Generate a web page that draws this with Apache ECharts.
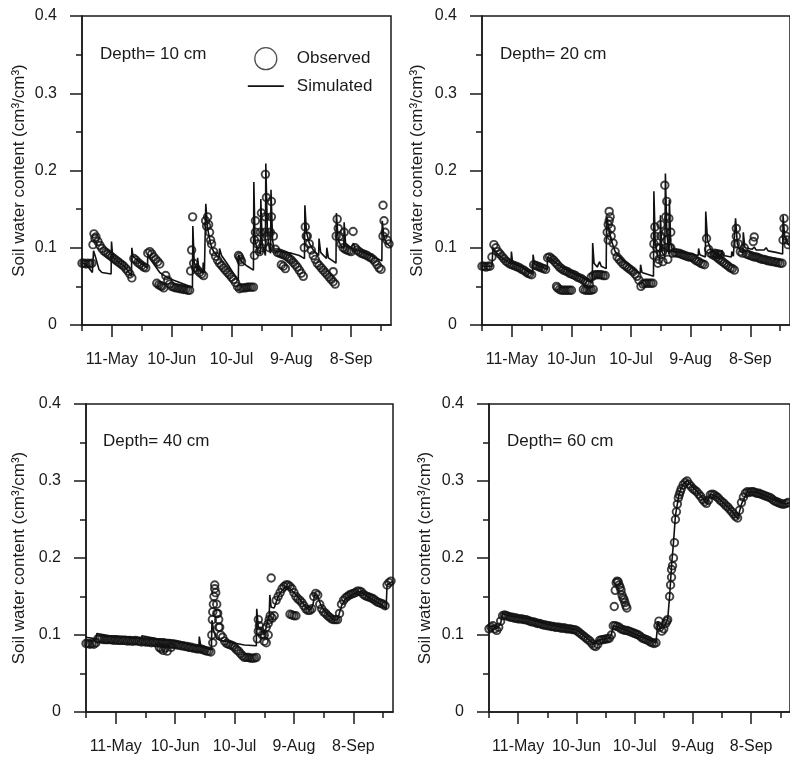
<!DOCTYPE html>
<html>
<head>
<meta charset="utf-8">
<script src="https://cdn.jsdelivr.net/npm/echarts@6/dist/echarts.min.js"></script>
<style>
  html, body { margin: 0; padding: 0; background: #fff; }
  #chart { width: 790px; height: 758px; }
</style>
</head>
<body>
<div id="chart"></div>
<script>
// Day 0 = 26-Apr; one value per day for the observed series.
const dayCount = 155;
const majorDays = [15, 45, 75, 105, 135];
const minorDays = [0, 30, 60, 90, 120, 150];
const dateLabels = ['11-May', '10-Jun', '10-Jul', '9-Aug', '8-Sep'];
const depths = ['Depth= 10 cm', 'Depth= 20 cm', 'Depth= 40 cm', 'Depth= 60 cm'];

// ---- 10 cm ----
const obs10 = [
  0.080,0.080,0.079,0.080,0.079,0.080,0.118,0.114,0.108,0.103,
  0.099,0.096,0.094,0.092,0.090,0.088,0.086,0.084,0.082,0.080,
  0.078,0.076,0.073,0.070,0.066,0.061,0.086,0.084,0.081,0.079,
  0.077,0.075,0.074,0.093,0.095,0.092,0.088,0.085,0.082,0.079,
  0.050,0.048,0.064,0.058,0.053,0.050,0.049,0.048,0.048,0.047,
  0.047,0.046,0.046,0.045,0.045,0.097,0.080,0.074,0.071,0.068,
  0.066,0.064,0.135,0.140,0.120,0.105,0.095,0.089,0.084,0.080,
  0.077,0.074,0.071,0.068,0.065,0.062,0.059,0.055,0.050,0.047,
  0.048,0.048,0.048,0.049,0.049,0.049,0.049,0.135,0.105,0.095,
  0.145,0.105,0.195,0.115,0.100,0.160,0.115,0.098,0.094,0.093,
  0.092,0.091,0.090,0.088,0.086,0.084,0.081,0.078,0.075,0.071,
  0.067,0.063,0.127,0.115,0.105,0.097,0.090,0.085,0.080,0.077,
  0.074,0.071,0.068,0.065,0.062,0.059,0.056,0.053,0.137,0.115,
  0.105,0.100,0.098,0.097,0.096,0.095,0.121,0.100,0.097,0.095,
  0.093,0.092,0.091,0.090,0.088,0.087,0.085,0.082,0.078,0.074,
  0.072,0.155,0.120,0.110,0.105
];
const obs10Extra = [
  [5.5,0.104],[6.5,0.112],[37.5,0.054],[38.5,0.052],[39.5,0.051],[54.5,0.070],[55.5,0.140],
  [62.5,0.128],[63.5,0.130],[64.5,0.110],[78.5,0.090],[79,0.088],[79.5,0.085],[80,0.082],
  [86.5,0.090],[86.5,0.110],[87,0.120],[89.5,0.120],[90,0.100],[92,0.120],[92,0.140],[92.5,0.165],
  [94.5,0.120],[95,0.140],[100,0.078],[101,0.076],[102,0.073],[111.5,0.100],[112.5,0.115],
  [126,0.069],[127.5,0.115],[128.5,0.125],[131.5,0.120],[151,0.115],[151.5,0.135]
];
const sim10 = [
  [0,0.080],[2,0.079],[5.2,0.068],[5.8,0.096],[7,0.086],[8.5,0.072],[10,0.068],[14.6,0.066],[14.8,0.108],
  [15.4,0.088],[18,0.082],[22,0.074],[24.8,0.063],[25,0.100],[25.6,0.089],[29,0.081],[32.8,0.074],
  [33,0.090],[34,0.086],[36,0.079],[39,0.068],[43,0.061],[48,0.056],[52,0.052],[55.4,0.049],
  [55.6,0.128],[56.3,0.080],[57.8,0.070],[58,0.087],[58.6,0.072],[60.6,0.067],[60.8,0.081],
  [61.4,0.068],[61.9,0.066],[62.1,0.157],[63,0.125],[64.5,0.105],[66,0.095],[68.8,0.086],
  [69,0.099],[70,0.090],[74,0.075],[78.4,0.057],[78.6,0.091],[80,0.082],[83,0.076],[86,0.071],
  [86.2,0.185],[86.8,0.110],[88,0.095],[89.5,0.092],[89.7,0.163],[90.4,0.105],[92,0.090],
  [92.2,0.209],[93,0.120],[94,0.098],[94.6,0.093],[94.8,0.175],[95.6,0.110],[96.5,0.096],
  [100,0.095],[105,0.093],[109,0.090],[111.6,0.086],[111.8,0.155],[112.6,0.120],[114,0.106],
  [116,0.097],[118.7,0.090],[118.9,0.112],[119.7,0.094],[122.6,0.086],[122.8,0.100],[123.6,0.087],
  [127.4,0.080],[127.6,0.145],[128.5,0.110],[130,0.102],[131.3,0.099],[131.5,0.133],[132.2,0.106],
  [135,0.100],[136,0.099],[136.2,0.106],[137,0.098],[141,0.094],[145,0.090],[148,0.086],
  [150.4,0.083],[150.6,0.135],[151.5,0.112],[153,0.105],[155,0.101]
];

// ---- 20 cm ----
const obs20 = [
  0.076,0.076,0.075,0.076,0.076,0.088,0.104,0.100,0.095,0.092,
  0.089,0.086,0.083,0.081,0.079,0.078,0.077,0.076,0.075,0.074,
  0.072,0.071,0.069,0.067,0.066,0.065,0.078,0.077,0.076,0.075,
  0.074,0.073,0.072,0.087,0.088,0.086,0.084,0.081,0.078,0.075,
  0.073,0.071,0.070,0.069,0.067,0.066,0.065,0.064,0.062,0.061,
  0.060,0.058,0.056,0.055,0.053,0.062,0.064,0.065,0.065,0.065,
  0.065,0.064,0.064,0.120,0.147,0.125,0.106,0.095,0.088,0.085,
  0.082,0.079,0.077,0.075,0.073,0.071,0.069,0.066,0.063,0.058,
  0.050,0.053,0.054,0.054,0.054,0.054,0.054,0.127,0.100,0.085,
  0.130,0.095,0.181,0.110,0.138,0.100,0.093,0.094,0.093,0.093,
  0.092,0.091,0.090,0.089,0.088,0.088,0.087,0.085,0.083,0.082,
  0.080,0.079,0.078,0.112,0.098,0.093,0.091,0.090,0.088,0.086,
  0.084,0.082,0.080,0.078,0.076,0.074,0.073,0.071,0.125,0.105,
  0.095,0.093,0.100,0.092,0.091,0.090,0.089,0.088,0.088,0.087,
  0.086,0.085,0.085,0.084,0.083,0.083,0.082,0.082,0.081,0.081,
  0.080,0.080,0.138,0.115,0.104
];
const obs20Extra = [
  [37.5,0.050],[38,0.048],[39,0.046],[40,0.045],[41,0.045],[42,0.045],[43,0.045],[44,0.045],[45,0.045],
  [51,0.046],[52,0.045],[53,0.045],[54,0.045],[55,0.045],[56,0.046],
  [63.5,0.110],[63.5,0.130],[64,0.135],[64.5,0.140],[65,0.115],
  [86.5,0.090],[86.5,0.105],[87,0.115],[89.5,0.100],[90,0.115],[92.5,0.100],[92.5,0.120],
  [92.5,0.140],[93,0.160],[94.5,0.100],[95,0.120],[88.5,0.080],[91,0.082],[93.5,0.085],
  [117,0.093],[118,0.092],[119,0.092],[120,0.091],
  [136.5,0.108],[137,0.114],[127.5,0.105],[128,0.115],[151.5,0.110],[152,0.125],[153.5,0.110]
];
const sim20 = [
  [0,0.076],[5,0.076],[5.5,0.100],[7,0.094],[10,0.087],[14.6,0.079],[14.8,0.095],[15.4,0.080],
  [20,0.075],[24,0.068],[25.5,0.066],[25.7,0.091],[26.4,0.079],[30,0.075],[32.8,0.072],[33,0.088],
  [36,0.083],[40,0.075],[45,0.068],[50,0.062],[53,0.058],[55.5,0.055],[55.7,0.106],[56.4,0.080],
  [58,0.075],[59,0.074],[59.2,0.082],[60,0.076],[62.5,0.073],[62.7,0.140],[63.5,0.130],[65,0.110],
  [67,0.095],[70,0.086],[74,0.078],[77,0.071],[79.6,0.067],[79.8,0.078],[80.5,0.068],[84,0.065],
  [86.3,0.063],[86.5,0.173],[87.2,0.105],[88.5,0.088],[89.6,0.086],[89.8,0.142],[90.5,0.095],
  [92,0.088],[92.3,0.196],[93,0.120],[94.1,0.092],[94.3,0.162],[95,0.105],[96,0.095],[100,0.094],
  [105,0.092],[108.8,0.090],[109,0.099],[109.6,0.091],[112.4,0.088],[112.6,0.147],[113.5,0.110],
  [115,0.098],[118,0.092],[120.5,0.090],[120.7,0.097],[121.5,0.090],[125.5,0.088],[125.7,0.095],
  [126.5,0.089],[127.4,0.087],[127.6,0.138],[128.5,0.105],[130,0.095],[131.3,0.094],[131.5,0.120],
  [132.3,0.100],[136,0.098],[137,0.101],[138,0.097],[142,0.097],[143,0.100],[144,0.096],[148,0.094],
  [151.3,0.092],[151.5,0.142],[152.3,0.115],[154,0.105],[155,0.102]
];

// ---- 40 cm ----
const obs40 = [
  0.089,0.089,0.088,0.089,0.088,0.090,0.095,0.095,0.095,0.094,
  0.094,0.094,0.094,0.094,0.093,0.094,0.093,0.093,0.093,0.093,
  0.093,0.092,0.093,0.092,0.092,0.093,0.092,0.092,0.091,0.092,
  0.091,0.091,0.091,0.090,0.091,0.090,0.090,0.090,0.089,0.090,
  0.089,0.089,0.089,0.088,0.088,0.088,0.087,0.087,0.086,0.086,
  0.085,0.085,0.084,0.084,0.083,0.083,0.082,0.082,0.082,0.081,
  0.080,0.079,0.079,0.078,0.090,0.165,0.128,0.110,0.100,0.097,
  0.092,0.089,0.088,0.087,0.086,0.084,0.081,0.079,0.076,0.073,
  0.071,0.071,0.071,0.070,0.070,0.070,0.071,0.120,0.105,0.100,
  0.092,0.090,0.100,0.125,0.122,0.125,0.145,0.150,0.155,0.160,
  0.163,0.165,0.165,0.163,0.160,0.155,0.150,0.147,0.145,0.142,
  0.138,0.134,0.132,0.132,0.134,0.150,0.154,0.152,0.140,0.134,
  0.130,0.128,0.125,0.123,0.121,0.120,0.120,0.120,0.128,0.140,
  0.145,0.148,0.150,0.152,0.153,0.154,0.155,0.157,0.157,0.156,
  0.153,0.151,0.150,0.149,0.148,0.147,0.145,0.143,0.142,0.141,
  0.140,0.138,0.165,0.168,0.170
];
const obs40Extra = [
  [37,0.084],[38,0.082],[39,0.080],[40,0.083],[41,0.079],[43,0.084],
  [63.5,0.100],[63.8,0.120],[64,0.130],[64.3,0.140],[64.6,0.150],[65,0.160],[65.5,0.155],
  [66,0.140],[66.5,0.128],[67,0.120],[67.5,0.110],
  [86.5,0.095],[87,0.105],[87.5,0.112],[90,0.100],[91,0.110],[92,0.115],[92.5,0.120],[93.5,0.174],
  [103,0.127],[104,0.126],[105,0.125],[106,0.125]
];
const sim40 = [
  [0,0.097],[5,0.095],[5.5,0.102],[12,0.099],[12.2,0.101],[20,0.098],[20.2,0.100],[28,0.096],
  [28.2,0.099],[36,0.095],[36.2,0.097],[44,0.093],[44.2,0.095],[52,0.088],[57,0.085],[57.2,0.098],
  [58,0.085],[63.3,0.081],[63.6,0.119],[64.5,0.105],[66,0.095],[68,0.093],[72,0.091],[76,0.089],
  [80,0.087],[86,0.086],[86.2,0.134],[87,0.110],[89,0.105],[90,0.100],[91,0.110],[92.5,0.125],
  [92.8,0.152],[93.5,0.136],[95,0.135],[97,0.150],[99,0.158],[101,0.163],[103,0.160],[105,0.155],
  [108,0.146],[111,0.136],[113,0.132],[114.5,0.138],[115.5,0.153],[117,0.150],[119,0.136],
  [122,0.126],[125,0.120],[127,0.120],[129,0.138],[131,0.147],[134,0.152],[137,0.156],[139,0.156],
  [142,0.150],[146,0.144],[150,0.138],[151.5,0.133],[152,0.165],[155,0.170]
];

// ---- 60 cm ----
const obs60 = [
  0.108,0.110,0.112,0.108,0.106,0.110,0.118,0.125,0.126,0.125,
  0.124,0.123,0.123,0.122,0.122,0.121,0.121,0.121,0.120,0.120,
  0.119,0.118,0.117,0.117,0.116,0.115,0.115,0.114,0.113,0.113,
  0.112,0.112,0.111,0.111,0.110,0.110,0.110,0.109,0.109,0.109,
  0.108,0.108,0.108,0.107,0.107,0.106,0.104,0.102,0.100,0.098,
  0.096,0.094,0.092,0.089,0.086,0.085,0.088,0.093,0.094,0.094,
  0.095,0.095,0.096,0.100,0.112,0.112,0.111,0.110,0.108,0.107,
  0.106,0.106,0.105,0.104,0.103,0.102,0.101,0.100,0.098,0.096,
  0.095,0.094,0.093,0.091,0.090,0.089,0.090,0.112,0.110,0.105,
  0.108,0.115,0.120,0.150,0.185,0.200,0.250,0.270,0.282,0.290,
  0.295,0.298,0.300,0.296,0.293,0.290,0.288,0.286,0.283,0.280,
  0.276,0.273,0.271,0.275,0.282,0.283,0.282,0.280,0.278,0.275,
  0.273,0.271,0.268,0.266,0.263,0.260,0.257,0.254,0.252,0.262,
  0.272,0.279,0.284,0.286,0.285,0.286,0.286,0.285,0.284,0.284,
  0.283,0.282,0.281,0.280,0.279,0.278,0.276,0.274,0.273,0.272,
  0.271,0.270,0.270,0.271,0.272
];
const obs60Extra = [
  [64.5,0.137],[65,0.158],[65.5,0.168],[66,0.170],[66.5,0.169],[67,0.165],[67.5,0.162],[68,0.158],
  [68.5,0.152],[69,0.148],[69.5,0.146],[70,0.142],[70.5,0.138],[71,0.135],
  [87.5,0.118],[91.5,0.118],[93.5,0.165],[94,0.175],[94.5,0.190],[95.5,0.220],[96.5,0.260],
  [97.5,0.278],[98.5,0.286]
];
const sim60 = [
  [0,0.110],[3,0.112],[4,0.108],[6,0.115],[7,0.128],[10,0.125],[20,0.121],[30,0.114],[40,0.109],
  [45,0.107],[50,0.097],[54,0.088],[55,0.087],[56,0.093],[62,0.096],[63,0.100],[64,0.112],
  [70,0.107],[80,0.096],[86,0.090],[87,0.118],[88,0.108],[90,0.110],[92,0.120],[93,0.150],
  [94,0.190],[95,0.220],[96,0.255],[98,0.285],[100,0.296],[102,0.301],[105,0.292],[109,0.281],
  [112,0.271],[114,0.283],[117,0.280],[121,0.271],[125,0.261],[128,0.251],[130,0.270],[133,0.286],
  [137,0.286],[140,0.283],[145,0.278],[150,0.272],[153,0.270],[155,0.272]
];

const observed = [obs10, obs20, obs40, obs60];
const observedExtra = [obs10Extra, obs20Extra, obs40Extra, obs60Extra];
const simulated = [sim10, sim20, sim40, sim60];

// ---- layout and styling ----
const FONT = '"Liberation Sans", Arial, Helvetica, sans-serif';
const INK = '#1a1a1a';
const panels = [
  { left: 82,  top: 16,  width: 309, height: 309, nameGap: 54, titleLeft: 100, titleTop: 46 },
  { left: 482, top: 16,  width: 309, height: 309, nameGap: 56, titleLeft: 500, titleTop: 46 },
  { left: 86,  top: 404, width: 307, height: 308, nameGap: 58, titleLeft: 103, titleTop: 433 },
  { left: 489, top: 404, width: 309, height: 308, nameGap: 55, titleLeft: 507, titleTop: 433 }
];

const grid = [], xAxis = [], yAxis = [], series = [], title = [];
panels.forEach((p, i) => {
  grid.push({ left: p.left, top: p.top, width: p.width, height: p.height,
    show: true, borderColor: INK, borderWidth: 1.5, backgroundColor: 'transparent' });

  // long ticks + date labels
  xAxis.push({
    type: 'value', gridIndex: i, min: 0, max: dayCount, position: 'bottom', offset: 0,
    axisLine: { show: true, onZero: false, lineStyle: { color: INK, width: 1.5 } },
    axisTick: { show: true, length: 12, lineStyle: { color: INK, width: 1.5 }, customValues: majorDays },
    axisLabel: { show: true, customValues: majorDays, margin: 27, fontSize: 16, color: INK, fontFamily: FONT,
      formatter: v => dateLabels[majorDays.indexOf(Math.round(v))] || '' },
    splitLine: { show: false }
  });
  // short ticks
  xAxis.push({
    type: 'value', gridIndex: i, min: 0, max: dayCount, position: 'bottom', offset: 0,
    axisLine: { show: false, onZero: false },
    axisTick: { show: true, length: 6, lineStyle: { color: INK, width: 1.5 }, customValues: minorDays },
    axisLabel: { show: false },
    splitLine: { show: false }
  });

  yAxis.push({
    type: 'value', gridIndex: i, min: 0, max: 0.4, interval: 0.1,
    name: 'Soil water content (cm³/cm³)', nameLocation: 'middle', nameGap: p.nameGap, nameRotate: 90,
    nameTextStyle: { fontSize: 17, color: INK, fontFamily: FONT },
    axisLine: { show: true, lineStyle: { color: INK, width: 1.5 } },
    axisTick: { show: true, length: 12, lineStyle: { color: INK, width: 1.5 } },
    minorTick: { show: true, splitNumber: 2, length: 6, lineStyle: { color: INK, width: 1.5 } },
    axisLabel: { margin: 25, fontSize: 16, color: INK, fontFamily: FONT,
      formatter: v => String(+v.toFixed(1)) },
    splitLine: { show: false }
  });

  title.push({ text: depths[i], left: p.titleLeft, top: p.titleTop, padding: 0,
    textStyle: { fontSize: 17, fontWeight: 'normal', color: INK, fontFamily: FONT } });

  const pts = observed[i].map((v, d) => [d, v]).concat(observedExtra[i]);
  series.push({
    type: 'scatter', name: 'Observed', xAxisIndex: 2 * i, yAxisIndex: i, data: pts,
    symbol: 'circle', symbolSize: 7.5, silent: true, z: 2,
    itemStyle: { color: 'rgba(0,0,0,0)', borderColor: '#111', borderWidth: 1.9 }
  });
  series.push({
    type: 'line', name: 'Simulated', xAxisIndex: 2 * i, yAxisIndex: i, data: simulated[i],
    symbol: 'none', showSymbol: false, silent: true, z: 3,
    itemStyle: { color: 'rgba(0,0,0,0)', borderColor: 'rgba(0,0,0,0)', borderWidth: 0 },
    lineStyle: { color: '#111', width: 1.6 }
  });
});

const chart = echarts.init(document.getElementById('chart'), null, { renderer: 'canvas' });
chart.setOption({
  backgroundColor: '#fff',
  animation: false,
  textStyle: { fontFamily: FONT },
  title,
  legend: {
    data: [
      { name: 'Observed', icon: 'circle',
        itemStyle: { color: 'rgba(0,0,0,0)', borderColor: '#222', borderWidth: 1.3 } },
      { name: 'Simulated',
        itemStyle: { color: 'rgba(0,0,0,0)', borderColor: 'rgba(0,0,0,0)', borderWidth: 0 },
        lineStyle: { color: '#111', width: 1.6 } }
    ],
    orient: 'vertical', left: 242, top: 42, itemWidth: 36, itemHeight: 22, itemGap: 7,
    selectedMode: false,
    textStyle: { fontSize: 17, color: INK, fontFamily: FONT, padding: [0, 0, 0, 8] }
  },
  grid, xAxis, yAxis, series
});
</script>
</body>
</html>
